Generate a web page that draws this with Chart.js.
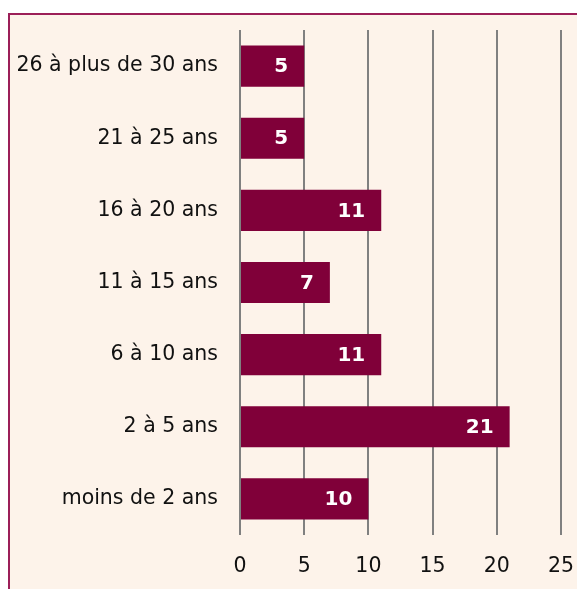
<!DOCTYPE html>
<html><head><meta charset="utf-8">
<script src="https://cdn.jsdelivr.net/npm/chart.js@4/dist/chart.umd.min.js"></script>
<style>
html,body{margin:0;padding:0;background:#fff;overflow:hidden;}
#frame{position:absolute;left:8px;top:13px;width:700px;height:700px;border-left:2px solid #9c1f58;border-top:2px solid #9c1f58;background:#fdf3ea;}
#c{position:absolute;left:0;top:0;}
</style></head><body>
<div id="frame"></div>
<canvas id="c" width="577" height="589"></canvas>
<script>
const categories = ["26 à plus de 30 ans","21 à 25 ans","16 à 20 ans","11 à 15 ans","6 à 10 ans","2 à 5 ans","moins de 2 ans"];
const values = [5,5,11,7,11,21,10];
const xTicks = [0,5,10,15,20,25];

const FONT = "'DejaVu Sans',sans-serif";
const labelPlugin = {
  id:'barLabels',
  afterDatasetsDraw(chart){
    const ctx = chart.ctx;
    const meta = chart.getDatasetMeta(0);
    ctx.save();
    ctx.fillStyle = '#ffffff';
    ctx.font = "bold 20px " + FONT;
    ctx.textAlign = 'right';
    ctx.textBaseline = 'middle';
    meta.data.forEach((bar,i)=>{
      ctx.fillText(String(values[i]), bar.x - 16, bar.y + 1);
    });
    ctx.restore();
  }
};

new Chart(document.getElementById('c'), {
  type:'bar',
  data:{labels:categories, datasets:[{data:values, backgroundColor:'#800039', borderWidth:0, categoryPercentage:1, barPercentage:0.57}]},
  options:{
    indexAxis:'y', responsive:false, animation:false,
    layout:{padding:{top:30,right:16,left:0,bottom:0}},
    plugins:{legend:{display:false}, tooltip:{enabled:false}},
    scales:{
      x:{min:0,max:25,
         afterBuildTicks(s){ s.ticks = xTicks.map(v=>({value:v})); },
         afterFit(s){ s.height = 54; s.paddingRight = 0; s.paddingLeft = 0; },
         grid:{color:'#808080', lineWidth:2, drawTicks:false},
         border:{display:false},
         ticks:{color:'#111111', font:{family:FONT,size:20.5}, padding:19}},
      y:{
         afterFit(s){ s.width = 240; s.paddingTop = 0; s.paddingBottom = 0; },
         grid:{display:false, drawTicks:false}, border:{display:false},
         ticks:{color:'#111111', font:{family:FONT,size:20.5}, padding:22}}
    }
  },
  plugins:[labelPlugin]
});
</script></body></html>
